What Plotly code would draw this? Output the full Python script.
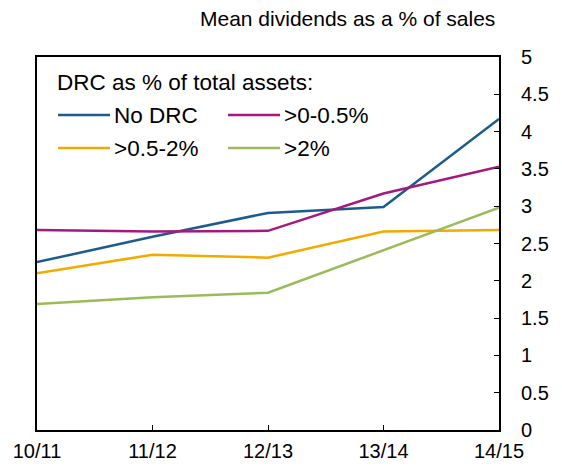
import plotly.graph_objects as go

categories = ["10/11", "11/12", "12/13", "13/14", "14/15"]
series_names = ["No DRC", ">0-0.5%", ">0.5-2%", ">2%"]
no_drc = [2.25, 2.59, 2.91, 2.99, 4.17]
drc_0_05 = [2.68, 2.66, 2.67, 3.17, 3.53]
drc_05_2 = [2.10, 2.35, 2.31, 2.66, 2.68]
drc_over2 = [1.69, 1.78, 1.84, 2.41, 2.98]
y_ticks = [0, 0.5, 1, 1.5, 2, 2.5, 3, 3.5, 4, 4.5, 5]
y_tick_labels = ["0", "0.5", "1", "1.5", "2", "2.5", "3", "3.5", "4", "4.5", "5"]
y_title = "Mean dividends as a % of sales"
legend_title = "DRC as % of total assets:"

colors = ["#1B5C8C", "#A3197F", "#F2A900", "#9BBB59"]
values = [no_drc, drc_0_05, drc_05_2, drc_over2]

W, H = 562, 466
L, R, T, B = 37, 499, 57, 430
FONT = "Liberation Sans, Arial, sans-serif"
FS_AX = 20
FS_TITLE = 21
FS_LEG = 22.5

def px(x):
    return (x - L) / (R - L)

def py(y):
    return (B - y) / (B - T)

fig = go.Figure()
for name, vals, col in zip(series_names, values, colors):
    fig.add_trace(go.Scatter(x=categories, y=vals, mode="lines", name=name,
                             line=dict(color=col, width=2.5), showlegend=False,
                             cliponaxis=False, hoverinfo="skip"))

# manual legend
legend_pos = [(58, 115), (228, 115), (58, 148), (228, 148)]
shapes = []
annotations = []
for (lx, ly), name, col in zip(legend_pos, series_names, colors):
    shapes.append(dict(type="line", xref="paper", yref="paper",
                       x0=px(lx), x1=px(lx + 52), y0=py(ly), y1=py(ly),
                       line=dict(color=col, width=2.5)))
    annotations.append(dict(xref="paper", yref="paper", x=px(lx + 54), y=py(ly),
                            text=name, showarrow=False, xanchor="left", yanchor="middle",
                            font=dict(family=FONT, size=FS_LEG, color="black")))
annotations.append(dict(xref="paper", yref="paper", x=px(55), y=py(82),
                        text=legend_title, showarrow=False, xanchor="left", yanchor="middle",
                        font=dict(family=FONT, size=FS_LEG, color="black")))
annotations.append(dict(xref="paper", yref="paper", x=px(497), y=py(19),
                        text=y_title, showarrow=False, xanchor="right", yanchor="middle",
                        font=dict(family=FONT, size=FS_TITLE, color="black")))

fig.update_layout(
    width=W, height=H,
    margin=dict(l=L, r=W - R, t=T, b=H - B, pad=0, autoexpand=False),
    paper_bgcolor="white", plot_bgcolor="white",
    font=dict(family=FONT, size=FS_AX, color="black"),
    shapes=shapes, annotations=annotations,
    showlegend=False,
)
fig.update_xaxes(type="category", range=[0, 4], showgrid=False, zeroline=False,
                 automargin=False,
                 showline=True, linecolor="black", linewidth=2, mirror=True,
                 ticks="inside", ticklen=5, tickcolor="black", tickwidth=1,
                 ticklabelstandoff=2,
                 tickfont=dict(family=FONT, size=FS_AX, color="black"))
fig.update_yaxes(side="right", range=[0, 5], tickvals=y_ticks, ticktext=y_tick_labels,
                 showgrid=False, zeroline=False, automargin=False,
                 showline=True, linecolor="black", linewidth=2, mirror=True,
                 ticks="inside", ticklen=5, tickcolor="black", tickwidth=1,
                 ticklabelstandoff=16,
                 tickfont=dict(family=FONT, size=FS_AX, color="black"))

fig.write_html("out.html", config={"displayModeBar": False},
               post_script="document.body.style.margin='0';document.body.style.overflow='hidden';")
